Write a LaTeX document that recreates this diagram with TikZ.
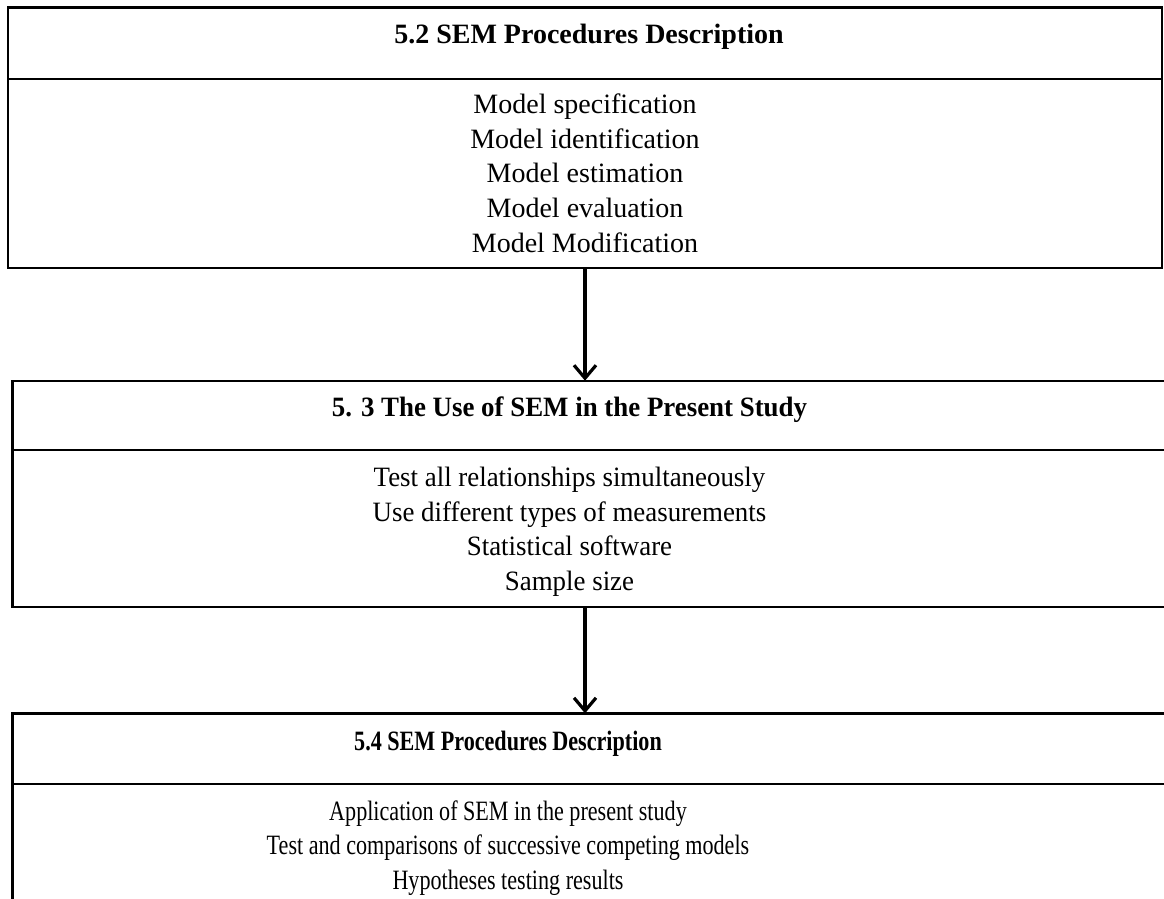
\documentclass[tikz,border=0pt]{standalone}
\usepackage{fontspec}
\usepackage{graphicx}
\setmainfont{Liberation Serif}
\usetikzlibrary{arrows.meta}

\tikzset{
  panel/.style={draw=black, line width=2.4pt, inner sep=0pt, outer sep=0pt, fill=none},
  divider/.style={draw=black, line width=2.2pt},
  heading/.style={anchor=base, inner sep=0pt, font=\fontsize{28}{34}\selectfont\bfseries},
  entry/.style={anchor=base, inner sep=0pt, font=\fontsize{28}{34}\selectfont},
  flow/.style={line width=3.2pt, -{Straight Barb[length=13pt, width=22pt, line width=3.2pt]}}
}

\begin{document}
\begin{tikzpicture}[x=1pt, y=-1pt]
  \useasboundingbox (0,0) rectangle (1164,899);
  \clip (0,0) rectangle (1164,899);

  % first panel: 5.2
  \node[panel, minimum width=1154pt, minimum height=260.3pt] (p1) at (585,137.85) {};
  \draw[divider] (p1.west |- 0,78.7) coordinate (p1dl) -- (p1.east |- 0,78.7) coordinate (p1dr);
  \node[heading] (p1h) at (589,44) {5.2 SEM Procedures Description};
  \foreach \t [count=\i] in {Model specification, Model identification,
      Model estimation, Model evaluation, Model Modification}
    \node[entry] (p1e\i) at (585,{113.3+34.75*(\i-1)}) {\t};

  % second panel: 5.3
  \node[panel, minimum width=1170pt, minimum height=226pt] (p2) at (597.3,493.7) {};
  \draw[divider] (p2.west |- 0,450) -- (p2.east |- 0,450);
  \node[heading] (p2h) at (569.5,416.7) {\scalebox{0.96}[1]{5. 3 The Use of SEM in the Present Study}};
  \foreach \t [count=\i] in {Test all relationships simultaneously,
      Use different types of measurements, Statistical software, Sample size}
    \node[entry] (p2e\i) at (569.5,{486.7+34.5*(\i-1)}) {\scalebox{0.96}[1]{\t}};

  % third panel: 5.4
  \node[panel, minimum width=1170pt, minimum height=230pt] (p3) at (597.3,828.3) {};
  \draw[divider] (p3.west |- 0,783.7) -- (p3.east |- 0,783.7);
  \node[heading] (p3h) at (508,750.7) {\scalebox{0.79}[1]{5.4 SEM Procedures Description}};
  \foreach \t [count=\i] in {Application of SEM in the present study,
      Test and comparisons of successive competing models, Hypotheses testing results}
    \node[entry] (p3e\i) at (508,{820+34.7*(\i-1)}) {\scalebox{0.79}[1]{\t}};

  % connectors
  \draw[flow] (p1.south) -- (p1.south |- p2.north);
  \draw[flow] (p1.south |- p2.south) -- (p1.south |- p3.north);
\end{tikzpicture}
\end{document}
